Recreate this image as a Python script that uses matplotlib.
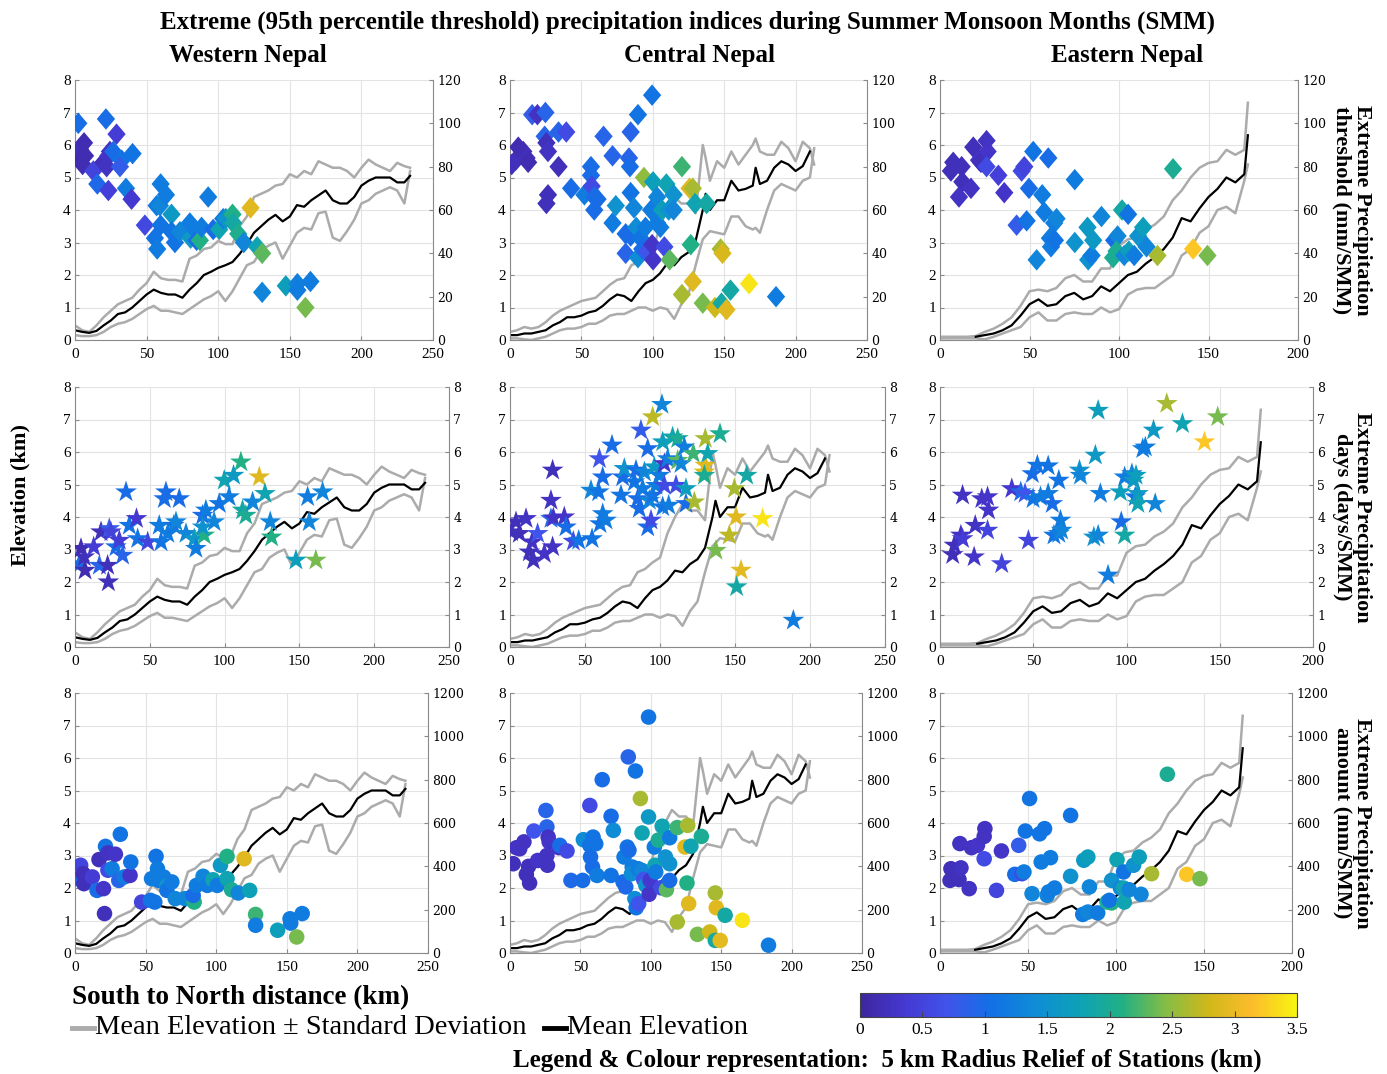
import numpy as np
import matplotlib.pyplot as plt
from matplotlib.colors import LinearSegmentedColormap, Normalize
from matplotlib.cm import ScalarMappable
from matplotlib.lines import Line2D

plt.rcParams['font.family'] = ['Liberation Serif', 'DejaVu Serif']
nan = np.nan

# ---- elevation profiles (km) ----
west_dist = [0, 5, 10, 15, 20, 25, 30, 35, 40, 45, 50, 55, 60, 65, 70, 75, 80, 85, 90, 95, 100, 105, 110, 115,
             120, 125, 130, 135, 140, 145, 150, 155, 160, 165, 170, 175, 180, 185, 190, 195, 200, 205, 210, 215,
             220, 225, 230, 234]
west_mean = [0.30, 0.25, 0.22, 0.28, 0.45, 0.60, 0.80, 0.85, 1.00, 1.20, 1.40, 1.55, 1.45, 1.40, 1.40, 1.30, 1.55,
             1.75, 2.00, 2.10, 2.22, 2.30, 2.40, 2.65, 2.95, 3.30, 3.50, 3.70, 3.85, 3.65, 3.80, 4.15, 4.10, 4.30,
             4.45, 4.60, 4.30, 4.20, 4.20, 4.40, 4.75, 4.90, 5.00, 5.00, 5.00, 4.85, 4.85, 5.05]
west_upper = [0.45, 0.30, 0.25, 0.45, 0.70, 0.90, 1.10, 1.20, 1.30, 1.55, 1.75, 2.10, 1.90, 1.85, 1.85, 1.80, 2.50,
              2.60, 2.80, 2.85, 3.05, 2.95, 2.95, 3.50, 3.80, 4.40, 4.50, 4.60, 4.75, 4.80, 5.10, 5.00, 5.20, 5.10,
              5.50, 5.40, 5.30, 5.30, 5.20, 5.00, 5.30, 5.55, 5.40, 5.30, 5.20, 5.45, 5.35, 5.30]
west_lower = [0.15, 0.12, 0.12, 0.15, 0.25, 0.40, 0.50, 0.55, 0.65, 0.80, 0.95, 1.05, 0.90, 0.90, 0.85, 0.80, 0.95,
              1.10, 1.25, 1.35, 1.50, 1.20, 1.50, 1.90, 2.30, 2.40, 2.75, 2.90, 3.00, 2.50, 2.90, 3.30, 3.45, 3.40,
              3.90, 3.95, 3.15, 3.05, 3.35, 3.70, 4.20, 4.30, 4.50, 4.60, 4.70, 4.60, 4.20, 5.20]

central_dist = [0, 5, 10, 15, 20, 25, 30, 35, 40, 45, 50, 55, 60, 65, 70, 75, 80, 85, 90, 95, 100, 105, 110, 115,
                120, 125, 130, 135, 137, 140, 145, 150, 155, 160, 165, 170, 172, 175, 180, 185, 190, 195, 200, 205,
                210, 213]
central_mean = [0.15, 0.15, 0.20, 0.20, 0.25, 0.30, 0.45, 0.55, 0.70, 0.70, 0.75, 0.85, 0.90, 1.05, 1.25, 1.40, 1.35,
                1.20, 1.50, 1.75, 1.85, 2.05, 2.35, 2.30, 2.55, 2.70, 3.05, 4.00, 4.50, 4.00, 4.30, 4.30, 4.90, 4.60,
                4.65, 4.75, 5.30, 4.80, 4.90, 5.30, 5.50, 5.40, 5.20, 5.35, 5.80, nan]
central_upper = [0.25, 0.30, 0.40, 0.35, 0.40, 0.55, 0.75, 0.90, 1.00, 1.10, 1.20, 1.25, 1.30, 1.50, 1.70, 1.85, 1.90,
                 2.30, 2.40, 2.60, 2.75, 3.50, 4.00, 4.40, 4.20, 4.20, 3.90, 6.00, 5.60, 4.90, 5.50, 5.30, 5.80, 5.40,
                 5.70, 6.00, 6.20, 5.80, 5.70, 5.70, 6.10, 5.90, 5.50, 6.10, 5.90, 5.40]
central_lower = [0.05, 0.05, 0.02, 0.00, 0.05, 0.10, 0.20, 0.30, 0.35, 0.35, 0.40, 0.50, 0.50, 0.60, 0.75, 0.80, 0.80,
                 0.90, 1.00, 1.00, 0.90, 1.00, 0.95, 0.65, 1.10, 1.40, 2.30, 3.10, 3.20, 3.35, 3.30, 3.25, 3.80, 3.80,
                 3.50, 3.40, 3.45, 3.30, 4.00, 4.60, 4.80, 4.70, 4.60, 4.90, 5.00, 5.90]

east_dist = [0, 5, 10, 15, 20, 25, 30, 35, 40, 45, 50, 55, 60, 65, 70, 75, 80, 85, 90, 95, 100, 105, 110, 115,
             120, 125, 130, 135, 140, 145, 150, 155, 160, 165, 170, 172]
east_mean = [nan, nan, nan, nan, 0.10, 0.15, 0.20, 0.30, 0.45, 0.75, 1.10, 1.25, 1.05, 1.10, 1.35, 1.45, 1.25, 1.35,
             1.65, 1.50, 1.75, 2.00, 2.10, 2.35, 2.55, 2.80, 3.15, 3.75, 3.65, 4.05, 4.40, 4.65, 5.00, 4.85, 5.10,
             6.30]
east_upper = [0.10, 0.10, 0.10, 0.10, 0.12, 0.25, 0.35, 0.50, 0.70, 1.05, 1.50, 1.55, 1.50, 1.60, 1.90, 2.00, 1.80,
              1.80, 2.20, 2.20, 2.90, 3.10, 3.15, 3.40, 3.55, 3.80, 4.30, 4.60, 5.00, 5.30, 5.45, 5.50, 5.85, 5.70,
              5.85, 7.30]
east_lower = [0.05, 0.05, 0.05, 0.05, 0.05, 0.02, 0.10, 0.20, 0.30, 0.40, 0.70, 0.85, 0.60, 0.60, 0.80, 0.85, 0.80,
              0.80, 1.00, 0.85, 0.95, 1.40, 1.55, 1.60, 1.60, 1.80, 2.00, 2.60, 2.80, 3.30, 3.50, 4.00, 4.10, 3.90,
              4.90, 5.40]

# ---- stations: distance (km), index value, 5 km radius relief (km) ----
west_thr_x = [2.3, 21.6, 29, 3.5, 6.3, 3.5, 7, 5.3, 12.8, 15.6, 19.8, 23.3, 24.4, 26.7, 22.1, 32.6, 31.4, 40.2, 23.3,
              35.6, 39.5, 48.8, 55.8, 57.4, 57, 59.3, 59.8, 63.5, 59.8, 67.4, 67.4, 69.8, 73.3, 80.2, 80.7, 83.7, 84.9,
              87.2, 88.4, 93, 96.5, 100.7, 103.5, 105.3, 110, 110.5, 114, 117.9, 122.6, 127.2, 130.7, 130.7, 147.2,
              155.3, 155.3, 164.4, 160.9]
west_thr_y = [100, 102, 95, 88, 91, 83, 85, 81, 78, 72, 82, 85, 87, 87, 80, 83, 80, 86, 69, 70, 65, 53, 47, 42, 62, 62,
              72, 67, 53, 58, 50, 45, 50, 54, 47, 51, 46, 46, 52, 66, 51, 51, 56, 56, 58, 54, 49, 45, 61, 43, 40, 22,
              25, 26, 23, 27, 15]
west_thr_c = [1.0, 1.0, 0.4, 0.2, 0.15, 0.1, 0.15, 0.15, 0.5, 0.95, 0.2, 0.3, 0.25, 1.0, 0.25, 1.1, 0.8, 1.1, 0.45,
              1.2, 0.35, 0.55, 1.1, 1.2, 1.2, 1.3, 1.2, 1.2, 1.1, 1.6, 1.1, 1.1, 1.3, 1.2, 1.6, 1.2, 1.0, 2.1, 1.2, 1.2,
              1.0, 1.8, 1.2, 1.5, 2.1, 1.9, 2.05, 1.3, 2.9, 1.8, 2.3, 1.3, 1.7, 1.25, 1.2, 1.2, 2.4]

west_days_x = [2.9, 4, 6.2, 6.7, 12.5, 16.3, 17.4, 21.8, 22.3, 22.9, 24, 27.4, 29.6, 31.8, 34.1, 36.3, 41.1, 41.9,
               48.6, 56.3, 57.5, 60.8, 59.7, 62, 66, 67.5, 69.7, 74.2, 79.7, 80.8, 85.3, 86.4, 85.3, 87.5, 93, 96.4,
               99.8, 103, 106, 110.9, 112, 114.2, 118.7, 123.2, 127, 130.5, 131.4, 147.7, 155.5, 156.6, 165.5, 161]
west_days_y = [2.56, 3.03, 2.77, 2.36, 3.08, 2.51, 3.54, 2.51, 2.0, 3.64, 3.54, 3.08, 3.28, 2.82, 4.77, 3.74, 3.95,
               3.33, 3.23, 3.74, 3.23, 4.77, 4.56, 3.49, 3.74, 3.85, 4.56, 3.49, 3.33, 3.03, 4.05, 3.44, 3.69, 4.21,
               3.85, 4.41, 5.13, 4.62, 5.28, 5.69, 4.21, 4.05, 4.46, 5.23, 4.72, 3.85, 3.38, 2.67, 4.62, 3.85, 4.77,
               2.67]
west_days_c = [1.0, 0.15, 0.2, 0.15, 0.4, 0.9, 0.2, 0.2, 0.2, 0.8, 0.5, 1.0, 0.4, 0.9, 1.0, 1.1, 0.35, 1.1, 0.5, 1.2,
               1.1, 1.0, 1.0, 1.2, 1.1, 1.3, 1.0, 1.3, 1.6, 1.2, 1.0, 2.1, 1.5, 1.2, 1.3, 1.1, 1.8, 1.2, 1.6, 2.1, 1.9,
               2.0, 1.3, 2.9, 1.8, 1.3, 2.1, 1.7, 1.2, 1.3, 1.3, 2.4]

west_amt_x = [2.3, 4, 5.8, 6.3, 12.3, 15.6, 17, 20.2, 20.9, 21.6, 23.3, 23.3, 26.3, 28.6, 31, 32.1, 34.9, 39, 39.5,
              47.2, 53.5, 56.5, 54.2, 57.4, 58.4, 59.3, 62.8, 65.1, 65.1, 68.6, 71, 77.9, 84.4, 83.7, 86, 90.7, 93.7,
              97.7, 100.7, 103, 107.7, 107.7, 110.9, 115.6, 119.8, 123.7, 127.9, 127.9, 143.5, 152.3, 152.8, 160.9,
              157]
west_amt_y = [343, 405, 366, 320, 351, 289, 431, 297, 182, 492, 462, 382, 389, 456, 335, 548, 351, 358, 420, 235, 243,
              235, 343, 446, 389, 335, 351, 312, 289, 328, 251, 251, 235, 266, 312, 354, 312, 338, 312, 405, 446, 343,
              292, 277, 435, 289, 178, 128, 105, 158, 138, 182, 74]
west_amt_c = [1.0, 0.5, 0.2, 0.2, 0.4, 1.0, 0.2, 0.3, 0.2, 1.1, 0.25, 0.6, 1.2, 0.3, 0.9, 1.1, 1.2, 0.3, 1.1, 0.5, 1.1,
              1.1, 1.2, 1.1, 1.2, 1.2, 1.2, 1.5, 1.1, 1.2, 1.3, 1.3, 2.1, 1.0, 1.2, 1.3, 1.2, 1.8, 1.2, 1.6, 2.1, 1.8,
              2.0, 1.3, 2.9, 1.75, 2.2, 1.2, 1.7, 1.2, 1.2, 1.2, 2.4]

central_thr_x = [1.2, 4, 5.8, 9.3, 11.6, 12.7, 15.5, 19.2, 24.8, 24.3, 25.5, 26.6, 26.6, 25.5, 34, 34, 39.4, 42.8,
                 52.1, 56.7, 56.7, 57.2, 59, 59, 61.3, 65.5, 71.8, 74.1, 71.8, 81, 81, 83.3, 84, 84.5, 84.5, 86.8, 89.6,
                 84.5, 88.4, 89.6, 91.4, 92.6, 93.8, 94.9, 96, 99.5, 100.2, 99.5, 98.8, 100.2, 103, 103, 105.3, 106.5,
                 108.1, 109.5, 111.1, 114.6, 114.6, 111.8, 120.4, 120.4, 125.7, 128, 126.6, 129.6, 128, 137.7, 135,
                 143.5, 148.1, 147.5, 148.8, 151.6, 154.4, 167.4, 186.3]
central_thr_y = [81, 83, 89, 87, 84, 82, 104, 104, 105, 94, 91, 87, 67, 63, 80, 96, 96, 70, 67, 80, 76, 71, 66, 60, 65,
                 94, 85, 62, 54, 49, 40, 84, 80, 96, 68, 61, 104, 48, 52, 38, 47, 42, 75, 52, 41, 44, 37, 113, 60, 73,
                 66, 54, 52, 60, 43, 72, 60, 67, 60, 37, 80, 21, 70, 70, 44, 63, 27, 63, 17, 15, 17, 42, 40, 14, 23, 26,
                 20]
central_thr_c = [0.2, 0.2, 0.15, 0.15, 0.2, 0.15, 0.8, 0.25, 0.9, 0.9, 0.2, 0.25, 0.2, 0.2, 0.2, 0.9, 0.6, 1.0, 1.2,
                 1.0, 1.0, 0.6, 1.0, 1.0, 1.0, 0.9, 0.9, 1.5, 1.2, 1.0, 0.9, 0.9, 1.0, 0.9, 1.1, 1.3, 1.1, 1.0, 1.4,
                 1.4, 1.1, 1.0, 2.5, 1.2, 0.7, 0.3, 0.3, 1.1, 1.2, 1.7, 1.3, 1.2, 1.2, 1.7, 0.6, 1.8, 1.5, 1.5, 1.3,
                 2.3, 2.2, 2.6, 2.9, 2.6, 2.1, 1.8, 2.9, 1.9, 2.4, 2.8, 1.9, 2.6, 2.85, 2.9, 1.9, 3.4, 1.2]

central_days_x = [1, 4, 6.2, 10.7, 12.9, 14.7, 15.6, 18.4, 22.9, 28.4, 27.3, 28.4, 27.3, 28.9, 36.2, 37.3, 42.2, 45.8,
                  54.7, 54, 59.1, 59.6, 61.8, 61.8, 60, 64, 68, 74, 75.1, 76.2, 82.9, 84, 85.1, 86.2, 87.3, 89.6, 88.4,
                  91.8, 91.8, 94, 92.9, 95.1, 96.2, 95.1, 97.3, 99.6, 101.3, 101.8, 101.8, 102.9, 102.9, 105.1, 105.8,
                  108.4, 110.7, 111.8, 111.8, 114, 116.2, 117.3, 117.3, 122.2, 122.9, 129.6, 130.2, 130.2, 131.8,
                  129.6, 140, 137.3, 146.2, 149.6, 150.7, 154, 151.1, 157.8, 168.4, 188.9]
central_days_y = [3.54, 3.85, 3.49, 3.95, 2.92, 3.23, 2.67, 3.49, 2.87, 3.08, 4.51, 5.44, 3.95, 3.97, 4.0, 3.69, 3.25,
                  3.28, 3.33, 4.82, 4.77, 5.79, 5.23, 4.1, 3.79, 3.9, 6.21, 4.67, 5.23, 5.49, 5.08, 5.44, 4.56, 4.26,
                  6.67, 5.38, 4.87, 6.1, 3.69, 3.9, 4.51, 7.08, 5.54, 4.67, 4.97, 5.28, 7.46, 6.31, 4.31, 5.64, 4.97,
                  5.79, 4.36, 6.46, 4.97, 6.41, 5.74, 5.64, 6.15, 4.87, 4.41, 5.95, 4.46, 5.38, 5.59, 6.41, 5.95, 5.28,
                  6.56, 2.97, 3.44, 4.87, 4.0, 2.36, 1.85, 5.28, 3.95, 0.82]
central_days_c = [0.2, 0.2, 0.2, 0.25, 0.2, 0.25, 0.2, 0.7, 0.3, 0.25, 0.25, 0.2, 0.9, 0.25, 0.3, 1.0, 0.6, 1.1, 1.1,
                  1.3, 1.1, 0.7, 1.0, 1.2, 1.1, 1.2, 1.0, 1.1, 1.0, 1.5, 1.1, 1.0, 1.0, 1.0, 0.8, 1.3, 1.2, 1.0, 1.0,
                  0.6, 1.3, 2.7, 1.6, 1.1, 1.2, 1.2, 1.3, 1.7, 1.1, 0.3, 0.6, 1.2, 1.2, 1.8, 0.6, 2.0, 2.3, 1.3, 1.2,
                  1.7, 1.0, 2.2, 2.6, 2.9, 2.9, 2.6, 1.8, 2.0, 2.0, 2.4, 2.7, 2.6, 2.9, 2.95, 1.9, 1.9, 3.4, 1.2]

central_amt_x = [2.3, 4.6, 6.9, 9.9, 11.6, 13.2, 13.9, 16.9, 19.7, 25.5, 26.2, 26.2, 26.6, 27.1, 27.8, 34.7, 35.4,
                 40.5, 43.3, 51.6, 52.1, 56.7, 56.7, 57.2, 58.6, 59, 60.9, 61.8, 65.5, 71.8, 71.8, 73.4, 80.3, 82.2, 81,
                 83.3, 84.5, 84, 86.8, 86.3, 89.1, 88.7, 89.6, 91.4, 91, 92.6, 93.8, 93.8, 94.9, 96.5, 98.4, 98.4,
                 98.8, 99.5, 102.5, 103, 103.5, 105.3, 107.2, 108.1, 110.4, 111.1, 113.4, 113.4, 113.4, 118.8, 118.8,
                 124.3, 126.2, 128.5, 125.7, 126.9, 135.9, 133.1, 141.9, 145.8, 146.5, 145.8, 149.3, 152.8, 165, 183.6]
central_amt_y = [412, 486, 481, 513, 363, 400, 323, 563, 427, 658, 582, 450, 405, 535, 513, 486, 497, 471, 335, 335,
                 523, 681, 497, 443, 397, 535, 504, 358, 800, 358, 631, 566, 328, 305, 443, 489, 474, 905, 397, 366,
                 840, 251, 209, 228, 389, 713, 554, 381, 339, 312, 1089, 628, 271, 335, 489, 405, 374, 521, 301, 585,
                 443, 292, 412, 335, 532, 579, 143, 489, 589, 493, 323, 228, 538, 86, 97, 277, 209, 58, 58, 174, 151,
                 36]
central_amt_c = [0.2, 0.25, 0.25, 0.25, 0.2, 0.2, 0.2, 0.7, 0.3, 0.9, 0.9, 0.25, 0.25, 0.25, 0.3, 0.3, 1.0, 0.6, 0.95,
                 1.0, 1.4, 0.6, 1.1, 1.0, 1.0, 1.1, 1.1, 1.2, 1.0, 1.1, 1.0, 1.4, 1.0, 0.95, 1.2, 1.1, 1.0, 0.9, 1.2,
                 1.4, 1.1, 1.4, 1.1, 0.7, 1.2, 2.6, 1.8, 1.3, 0.7, 1.5, 1.1, 1.6, 0.3, 0.35, 1.2, 1.8, 1.2, 2.0, 0.6,
                 1.8, 1.5, 2.3, 1.5, 1.0, 1.2, 2.2, 2.6, 2.9, 2.6, 1.8, 2.1, 2.9, 2.0, 2.4, 2.8, 2.6, 2.9, 1.9, 2.95,
                 1.9, 3.4, 1.2]

east_thr_x = [6.1, 7.4, 12.1, 12.5, 10.6, 17.3, 18.6, 21.8, 22.9, 26.0, 26.6, 26.0, 32.6, 35.9, 42.8, 45.6, 47.1,
              48.4, 49.7, 52.1, 54, 57.1, 58.2, 60.5, 61.4, 62, 63.8, 65.1, 64.2, 75.3, 75.3, 82.4, 82.8, 84.7, 85.6,
              90.2, 96.7, 97.3, 99.2, 98.6, 101.7, 102.9, 105.1, 105.5, 108.5, 110.7, 113.5, 115.4, 121.5, 130.2,
              141.4, 149.4]
east_thr_y = [78, 82, 80, 73, 66, 70, 89, 83, 82, 92, 87, 80, 76, 68, 53, 78, 80, 55, 70, 87, 37, 67, 59, 84, 47, 43,
              54, 56, 46, 74, 45, 52, 37, 39, 46, 57, 38, 46, 48, 41, 60, 39, 58, 41, 39, 48, 52, 43, 39, 79, 42, 39]
east_thr_c = [0.2, 0.2, 0.2, 0.2, 0.25, 0.25, 0.2, 0.25, 0.2, 0.25, 0.3, 0.6, 0.45, 0.3, 0.8, 0.6, 0.5, 1.1, 1.0, 1.1,
              1.3, 1.2, 1.2, 1.0, 1.2, 1.2, 1.2, 1.3, 1.1, 1.2, 1.5, 1.6, 1.5, 1.2, 1.6, 1.3, 2.0, 1.0, 1.3, 2.0, 1.9,
              1.3, 1.1, 1.7, 1.2, 1.5, 1.7, 1.3, 2.6, 2.0, 3.2, 2.4]

east_days_x = [6.8, 7.7, 11.2, 12.1, 12.1, 18.3, 18.9, 22.4, 25.5, 26, 25.5, 33.1, 38.5, 43.3, 45.6, 47.4, 49.5, 49.9,
               52.2, 53.9, 58, 58, 60.2, 63.7, 64.6, 61.1, 63.7, 65.2, 74.8, 75.3, 83.3, 82.5, 84.8, 84.8, 86, 90.1,
               96.7, 97.2, 99, 99, 102.9, 103.8, 105.1, 104.7, 106.1, 106.1, 108.7, 110.1, 115.4, 114.5, 121.6, 130,
               141.8, 148.9]
east_days_y = [2.84, 3.13, 3.44, 4.67, 3.33, 2.77, 3.74, 4.56, 4.62, 4.21, 3.59, 2.56, 4.87, 4.77, 4.72, 3.28, 5.33,
               4.56, 5.59, 4.62, 5.57, 4.72, 4.41, 5.13, 3.9, 3.44, 3.49, 3.59, 5.44, 5.28, 5.9, 3.38, 3.44, 7.28, 4.72,
               2.21, 4.77, 3.85, 3.44, 5.23, 5.33, 5.13, 5.28, 4.62, 4.72, 4.41, 6.1, 6.15, 4.41, 6.67, 7.49, 6.87,
               6.31, 7.08]
east_days_c = [0.2, 0.2, 0.25, 0.25, 0.4, 0.3, 0.25, 0.3, 0.3, 0.3, 0.5, 0.5, 0.35, 1.0, 0.7, 0.5, 1.0, 1.1, 1.1, 1.2,
               1.1, 1.2, 1.0, 1.1, 1.2, 1.1, 1.2, 1.3, 1.5, 1.3, 1.6, 1.5, 1.3, 1.7, 1.2, 1.2, 1.7, 1.0, 1.9, 1.2, 1.3,
               1.6, 1.7, 1.1, 1.6, 1.8, 1.2, 1.2, 1.3, 1.6, 2.6, 1.8, 3.2, 2.4]

east_amt_x = [5.7, 6.2, 10.8, 11.3, 11.9, 16.6, 17.9, 21.3, 25.1, 25.5, 25.1, 32.1, 34.9, 42.5, 44.7, 46.6, 47.7, 48.5,
              50.9, 52.3, 56.6, 57.5, 59.4, 60.9, 61.7, 62.8, 65.1, 74.2, 74.2, 81.7, 84, 81.1, 84, 84.9, 89.6, 94.9,
              97.5, 96.2, 97.5, 100.6, 102.5, 104.3, 104.3, 104.7, 107.5, 110, 113.2, 114.2, 120.2, 129.2, 140.2,
              147.7]
east_amt_y = [335, 389, 339, 505, 393, 297, 486, 497, 538, 574, 435, 289, 471, 363, 497, 366, 374, 563, 713, 274, 550,
              420, 574, 266, 282, 440, 300, 635, 354, 428, 443, 178, 189, 305, 185, 235, 231, 243, 335, 431, 300, 374,
              300, 235, 292, 405, 443, 271, 366, 825, 363, 343]
east_amt_c = [0.2, 0.2, 0.2, 0.25, 0.25, 0.25, 0.25, 0.3, 0.25, 0.25, 0.6, 0.5, 0.3, 1.0, 0.8, 0.6, 1.2, 1.1, 1.1, 1.3,
              1.1, 1.2, 1.1, 1.3, 1.2, 1.2, 1.2, 1.1, 1.5, 1.6, 1.7, 1.2, 1.3, 1.3, 1.2, 2.0, 2.1, 1.1, 1.5, 1.8, 1.3,
              1.1, 1.8, 1.8, 1.3, 1.5, 1.7, 1.3, 2.6, 2.0, 3.2, 2.4]

regions = ['Western Nepal', 'Central Nepal', 'Eastern Nepal']
profiles = [(west_dist, west_mean, west_upper, west_lower),
            (central_dist, central_mean, central_upper, central_lower),
            (east_dist, east_mean, east_upper, east_lower)]
stations = [[(west_thr_x, west_thr_y, west_thr_c), (central_thr_x, central_thr_y, central_thr_c),
             (east_thr_x, east_thr_y, east_thr_c)],
            [(west_days_x, west_days_y, west_days_c), (central_days_x, central_days_y, central_days_c),
             (east_days_x, east_days_y, east_days_c)],
            [(west_amt_x, west_amt_y, west_amt_c), (central_amt_x, central_amt_y, central_amt_c),
             (east_amt_x, east_amt_y, east_amt_c)]]
xmax = [250, 250, 200]
right_lim = [(120, 20), (8, 1), (1200, 200)]
right_names = ['Extreme Precipitation\nthreshold (mm/SMM)',
               'Extreme Precipitation\ndays (days/SMM)',
               'Extreme Precipitation\namount (mm/SMM)']

# MATLAB style diamond is a bit taller than wide
diamond = [(0, 1), (0.85, 0), (0, -1), (-0.85, 0), (0, 1)]
marks = [(diamond, 240), ('*', 270), ('o', 125)]

# parula-like colour map, toned to the printed colours
parula = LinearSegmentedColormap.from_list('parula', [
    (0.00, (0.24, 0.15, 0.62)), (0.10, (0.27, 0.22, 0.82)), (0.20, (0.25, 0.33, 0.92)),
    (0.30, (0.07, 0.44, 0.90)), (0.40, (0.06, 0.55, 0.84)), (0.50, (0.05, 0.63, 0.72)),
    (0.60, (0.13, 0.69, 0.52)), (0.70, (0.52, 0.74, 0.27)), (0.80, (0.82, 0.72, 0.10)),
    (0.90, (0.99, 0.74, 0.17)), (1.00, (0.97, 0.96, 0.06))])
norm = Normalize(0, 3.5)

W, H = 1387, 1074
fig = plt.figure(figsize=(W / 100, H / 100), dpi=100)


def px_axes(l, t, r, b):
    return fig.add_axes([l / W, 1 - b / H, (r - l) / W, (b - t) / H])


rows_tb = [(80, 340), (387, 647), (693, 953)]
cols_lr = [[(75, 433), (510, 867), (940, 1298)],
           [(75, 449), (510, 885), (940, 1313)],
           [(75, 428), (510, 862), (940, 1292)]]
axcol = '#8a8a8a'

for r in range(3):
    t, b = rows_tb[r]
    for c in range(3):
        l, rr = cols_lr[r][c]
        ax = px_axes(l, t, rr, b)
        d, m, up, lo = profiles[c]
        ax.plot(d, up, color='#ababab', lw=1.8)
        ax.plot(d, lo, color='#ababab', lw=1.8)
        ax.plot(d, m, color='black', lw=1.6)
        ax.set_xlim(0, xmax[c])
        ax.set_ylim(0, 8)
        ax.set_xticks(range(0, xmax[c] + 1, 50))
        ax.set_yticks(range(0, 9))
        ax.grid(color='#e3e3e3', lw=0.8)
        ax.set_axisbelow(True)
        for s in ['top', 'right']:
            ax.spines[s].set_visible(False)
        for s in ['left', 'bottom']:
            ax.spines[s].set_color(axcol)
        ax.tick_params(direction='in', length=3, labelsize=11, color=axcol, pad=3)
        ax.tick_params(axis='x', pad=6)

        ax2 = ax.twinx()
        top2, step2 = right_lim[r]
        ax2.set_ylim(0, top2)
        ax2.set_yticks(np.arange(0, top2 + step2 / 2, step2))
        for s in ['top', 'left', 'bottom']:
            ax2.spines[s].set_visible(False)
        ax2.spines['right'].set_color(axcol)
        ax2.tick_params(direction='in', length=3, color=axcol, pad=3)
        for lab in ax2.get_yticklabels():
            lab.set_fontfamily('DejaVu Serif')
            lab.set_fontsize(9)
        sx, sy, sc = stations[r][c]
        mk, sz = marks[r]
        ax2.scatter(sx, sy, c=sc, cmap=parula, norm=norm, marker=mk, s=sz, linewidths=0)

    fig.text(1352 / W, 1 - (t + b) / 2 / H, right_names[r], rotation=270, ha='center', va='center',
             fontsize=16, fontweight='bold', linespacing=1.0)

fig.text(688 / W, 1 - 22 / H, 'Extreme (95th percentile threshold) precipitation indices during Summer Monsoon Months (SMM)',
         ha='center', va='center', fontsize=18, fontweight='bold')
for name, x in zip(regions, [248, 700, 1127]):
    fig.text(x / W, 1 - 56 / H, name, ha='center', va='center', fontsize=18, fontweight='bold')
fig.text(20 / W, 1 - 495 / H, 'Elevation (km)', rotation=90, ha='center', va='center', fontsize=16,
         fontweight='bold')

# bottom legend
fig.text(72 / W, 1 - 998 / H, 'South to North distance (km)', ha='left', va='center', fontsize=19.5,
         fontweight='bold')
fig.add_artist(Line2D([72 / W, 94 / W], [1 - 1028 / H] * 2, color='#ababab', lw=3.5))
fig.text(95 / W, 1 - 1028 / H, 'Mean Elevation \u00b1 Standard Deviation', ha='left', va='center', fontsize=20.5)
fig.add_artist(Line2D([544 / W, 566 / W], [1 - 1028 / H] * 2, color='black', lw=3.5))
fig.text(567 / W, 1 - 1028 / H, 'Mean Elevation', ha='left', va='center', fontsize=20.5)

cax = px_axes(860, 993, 1297, 1017)
cb = fig.colorbar(ScalarMappable(norm=norm, cmap=parula), cax=cax, orientation='horizontal',
                  ticks=np.arange(0, 3.6, 0.5))
cb.ax.set_xticklabels(['0', '0.5', '1', '1.5', '2', '2.5', '3', '3.5'])
cb.ax.tick_params(direction='in', length=4, labelsize=12.5, color='#444444')
cb.outline.set_edgecolor('#444444')
fig.text(887 / W, 1 - 1060 / H, 'Legend & Colour representation:  5 km Radius Relief of Stations (km)',
         ha='center', va='center', fontsize=18, fontweight='bold')

fig.savefig('out.png', dpi=100)
